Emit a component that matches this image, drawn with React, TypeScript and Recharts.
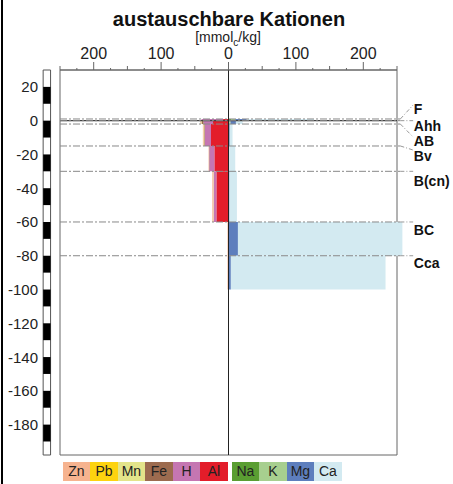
import { ComposedChart, XAxis, YAxis, ReferenceArea, ReferenceLine, ReferenceDot } from 'recharts';

// soil horizons, top and bottom depth in cm
const horizons = ['F', 'Ahh', 'AB', 'Bv', 'B(cn)', 'BC', 'Cca'];
const horizonTop = [1, 0, -2, -15, -30, -60, -80];
const horizonBottom = [0, -2, -15, -30, -60, -80, -100];
// where the leader line of each horizon label ends, and where the label sits
const leaderEnd = [9.3, 0, -9.7, -17.4, -30, -60, -80];
const labelDepth = [6.9, -3.2, -12, -21.1, -35.7, -64.7, -84.3];

// exchangeable cations per horizon [mmolc/kg]
const zn = [0, 1, 1, 0.5, 1.5, 1.5, 1.5];
const pb = [0, 0, 0, 0, 0, 0, 0];
const mn = [0, 1, 1, 0, 0.5, 0, 0];
const fe = [0, 3, 1, 0.5, 0, 0, 0];
const h = [32, 14, 9, 7.5, 4, 0, 0];
const al = [8, 23, 26, 21, 18, 0, 0];
const na = [4, 1, 0.5, 0, 0, 0, 0];
const k = [6, 2, 0.5, 0, 0, 0, 0];
const mg = [17, 8, 1, 1, 1.5, 14, 3.5];
const ca = [100, 10, 4, 9, 11, 244, 229.5];

const xTicks = [-250, -225, -200, -175, -150, -125, -100, -75, -50, -25, 0, 25, 50, 75, 100, 125, 150, 175, 200, 225, 250];
const yTicks = [20, 0, -20, -40, -60, -80, -100, -120, -140, -160, -180];

// acid cations stack to the left (Al next to zero), base cations to the right
const acid = [
  { name: 'Al', values: al, color: '#e31d2a' },
  { name: 'H', values: h, color: '#c576b2' },
  { name: 'Fe', values: fe, color: '#9c6b4f' },
  { name: 'Mn', values: mn, color: '#e3e48a' },
  { name: 'Pb', values: pb, color: '#fdd30f' },
  { name: 'Zn', values: zn, color: '#f6b38f' },
];
const base = [
  { name: 'Na', values: na, color: '#5a9e32' },
  { name: 'K', values: k, color: '#a7cf8f' },
  { name: 'Mg', values: mg, color: '#5d7ebd' },
  { name: 'Ca', values: ca, color: '#d3eaf1' },
];

const FONT = '"Liberation Sans", Arial, Helvetica, sans-serif';

const buildRects = () => {
  const rects: { key: string; x1: number; x2: number; y1: number; y2: number; color: string }[] = [];
  horizons.forEach((hz, i) => {
    let left = 0;
    acid.forEach((c) => {
      const v = c.values[i];
      if (v > 0) rects.push({ key: `${hz}-${c.name}`, x1: -(left + v), x2: -left, y1: horizonBottom[i], y2: horizonTop[i], color: c.color });
      left += v;
    });
    let right = 0;
    base.forEach((c) => {
      const v = c.values[i];
      if (v > 0) rects.push({ key: `${hz}-${c.name}`, x1: right, x2: right + v, y1: horizonBottom[i], y2: horizonTop[i], color: c.color });
      right += v;
    });
  });
  return rects;
};

const XTick = (props: any) => {
  const { x, payload } = props;
  const v = payload.value;
  const major = v % 100 === 0;
  const mid = !major && v % 50 === 0;
  const len = major ? 8 : mid ? 4 : 2;
  return (
    <g>
      <line x1={x} x2={x} y1={70} y2={70 - len} stroke="#666" />
      {major && (
        <text x={x} y={59} textAnchor="middle" fontSize={16} fill="#222" fontFamily={FONT}>
          {Math.abs(v)}
        </text>
      )}
    </g>
  );
};

const YTick = (props: any) => {
  const { y, payload } = props;
  return (
    <text x={38} y={y} textAnchor="end" dominantBaseline="central" fontSize={15} fill="#222" fontFamily={FONT}>
      {payload.value}
    </text>
  );
};

const legendItems = [...acid].reverse().concat(base);

const App = () => {
  const rects = buildRects();
  return (
    <div style={{ position: 'absolute', left: 0, top: 0, width: 453, height: 484, background: '#fff', fontFamily: FONT }}>
      <div style={{ position: 'absolute', left: 1, top: 0, width: 2, height: 484, background: '#000' }} />
      <div style={{ position: 'absolute', left: 0, width: 458, top: 9, textAlign: 'center', fontSize: 20, fontWeight: 'bold', lineHeight: '20px', color: '#111' }}>
        austauschbare Kationen
      </div>
      <div style={{ position: 'absolute', left: 0, width: 456, top: 30, textAlign: 'center', fontSize: 14, lineHeight: '14px', color: '#222' }}>
        [mmol<sub style={{ fontSize: 10, verticalAlign: -4, lineHeight: 0 }}>c</sub>/kg]
      </div>
      <div style={{ position: 'absolute', left: 0, top: 0 }}>
        <ComposedChart width={453} height={484} data={[]} margin={{ top: 40, right: 56, bottom: 29, left: 0 }}>
          <XAxis
            type="number"
            dataKey="x"
            orientation="top"
            domain={[-250, 250]}
            ticks={xTicks}
            interval={0}
            height={30}
            allowDataOverflow
            axisLine={{ stroke: '#666' }}
            tickLine={false}
            tick={<XTick />}
          />
          <YAxis
            type="number"
            dataKey="y"
            domain={[-198, 30]}
            ticks={yTicks}
            interval={0}
            width={60}
            allowDataOverflow
            axisLine={false}
            tickLine={false}
            tick={<YTick />}
          />
          {/* depth scale bar, 10 cm segments */}
          <ReferenceArea x1={-275} x2={-264} y1={-198} y2={30} ifOverflow="visible" fill="#fff" fillOpacity={1} stroke="#555" />
          {yTicks.map((t) => (
            <ReferenceArea key={`seg${t}`} x1={-275} x2={-264} y1={t - 10} y2={t} ifOverflow="visible" fill="#000" fillOpacity={1} stroke="none" />
          ))}
          <ReferenceArea x1={-250} x2={250} y1={-198} y2={30} ifOverflow="visible" fill="none" stroke="#666" />
          {rects.map((r) => (
            <ReferenceArea key={r.key} x1={r.x1} x2={r.x2} y1={r.y1} y2={r.y2} ifOverflow="visible" fill={r.color} fillOpacity={1} stroke="none" />
          ))}
          <ReferenceLine y={0} stroke="#444" strokeWidth={1.3} />
          {horizons.map((hz, i) => (
            <ReferenceLine
              key={`l${hz}`}
              segment={[{ x: -250, y: horizonTop[i] }, { x: 255, y: horizonTop[i] }]}
              ifOverflow="visible"
              stroke="#888"
              strokeDasharray="7 2 2 2"
            />
          ))}
          {horizons.map((hz, i) => (
            <ReferenceLine
              key={`c${hz}`}
              segment={[{ x: 255, y: horizonTop[i] }, { x: 274, y: leaderEnd[i] }]}
              ifOverflow="visible"
              stroke="#999"
              strokeDasharray="4 2 1 2"
            />
          ))}
          {horizons.map((hz, i) => (
            <ReferenceDot
              key={`t${hz}`}
              x={275}
              y={labelDepth[i]}
              ifOverflow="visible"
              shape={(p: any) => (
                <text x={p.cx} y={p.cy} dominantBaseline="central" fontSize={14} fontWeight="bold" fill="#111" fontFamily={FONT}>
                  {hz}
                </text>
              )}
            />
          ))}
          <ReferenceLine x={0} stroke="#222" />
        </ComposedChart>
      </div>
      <div style={{ position: 'absolute', top: 462, left: 62.7, display: 'flex' }}>
        {legendItems.map((c) => (
          <div
            key={c.name}
            style={{
              width: 27.5,
              height: 18.5,
              marginLeft: c.name === 'Na' ? 4 : 0,
              background: c.color,
              fontSize: 14,
              lineHeight: '19px',
              textAlign: 'center',
              color: '#222',
            }}
          >
            {c.name}
          </div>
        ))}
      </div>
    </div>
  );
};

export default App;
